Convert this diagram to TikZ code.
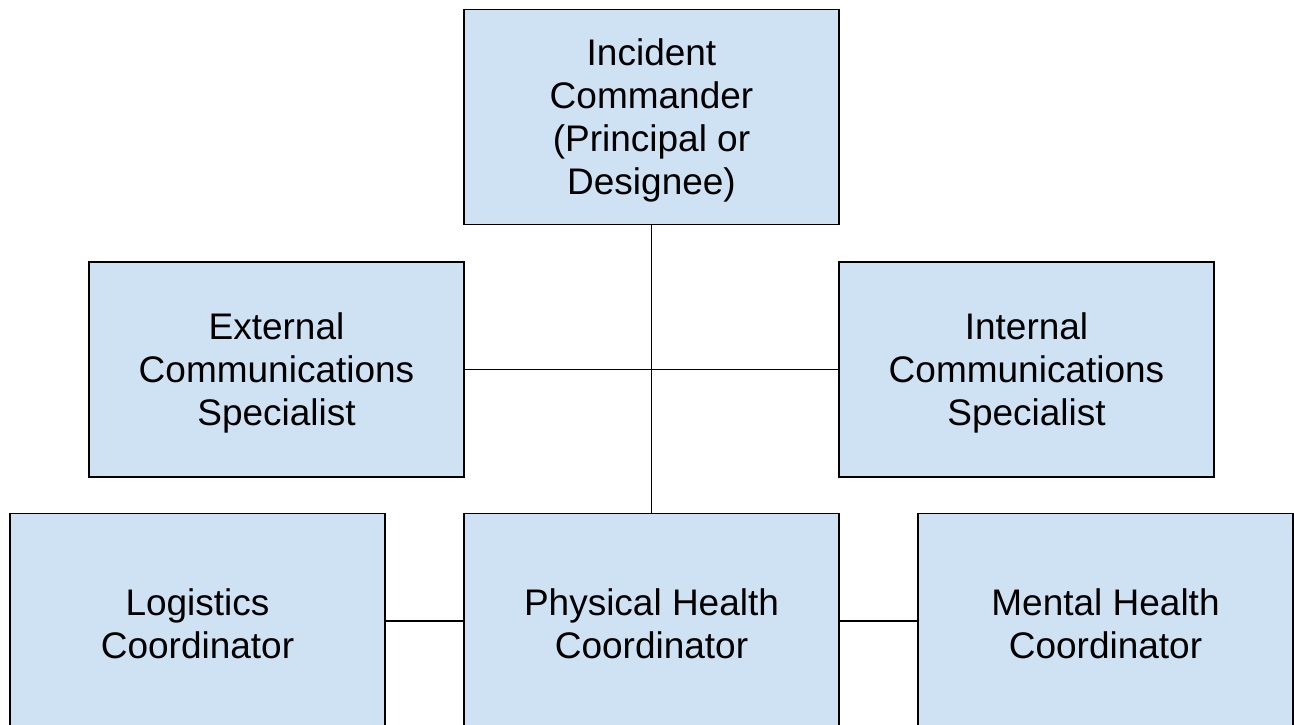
\documentclass[tikz,border=0pt]{standalone}
\usepackage{fontspec}
\setmainfont{Liberation Sans}
\definecolor{boxfill}{HTML}{CFE2F3}
\begin{document}
\begin{tikzpicture}[x=1pt,y=-1pt,
  orgbox/.style={draw=black, line width=1.8pt, fill=boxfill, rectangle,
    minimum width=375pt, minimum height=215pt, inner sep=0pt},
  boxtext/.style={align=center, inner sep=0pt, yshift=-3pt,
    font=\fontsize{37}{43}\selectfont},
  link/.style={draw=black, line width=1.6pt}]
  \clip (0,0) rectangle (1294,725);
  \fill[white] (0,0) rectangle (1294,725);
  % boxes
  \node[orgbox] (ic)   at (651.5,117)   {};
  \node[orgbox] (ext)  at (276.5,369.5) {};
  \node[orgbox] (int)  at (1026.5,369.5){};
  \node[orgbox] (log)  at (197.5,621)   {};
  \node[orgbox] (phys) at (651.5,621)   {};
  \node[orgbox] (ment) at (1105.5,621)  {};
  % labels
  \node[boxtext] (ic-t)   at (ic.center)   {Incident\\Commander\\(Principal or\\Designee)};
  \node[boxtext] (ext-t)  at (ext.center)  {External\\Communications\\Specialist};
  \node[boxtext] (int-t)  at (int.center)  {Internal\\Communications\\Specialist};
  \node[boxtext] (log-t)  at (log.center)  {Logistics\\Coordinator};
  \node[boxtext] (phys-t) at (phys.center) {Physical Health\\Coordinator};
  \node[boxtext] (ment-t) at (ment.center) {Mental Health\\Coordinator};
  % connectors
  \draw[link] (ic.south) -- (phys.north);
  \draw[link] (ext.east) -- (int.west);
  \draw[link] (log.east) -- (phys.west);
  \draw[link] (phys.east) -- (ment.west);
\end{tikzpicture}
\end{document}
